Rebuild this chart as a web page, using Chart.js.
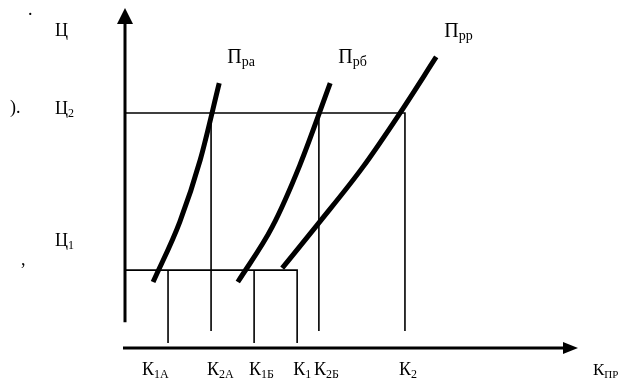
<!DOCTYPE html>
<html>
<head>
<meta charset="utf-8">
<script src="https://cdn.jsdelivr.net/npm/chart.js@4/dist/chart.umd.min.js"></script>
<style>
  html, body { margin: 0; padding: 0; background: #fff; }
  #wrap { position: relative; width: 629px; height: 381px; }
</style>
</head>
<body>
<div id="wrap"><canvas id="chart"></canvas></div>
<script>
// ── Data ─────────────────────────────────────────────────────────────────────

// quantities on the horizontal axis (К with subscript)
const qSubs   = ['1А', '2А', '1Б', '1', '2Б', '2'];
const qValues = [9.5, 19.0, 28.5, 38.0, 42.8, 61.8];

// price levels Ц1, Ц2
const priceSubs   = ['1', '2'];
const priceLevels = [22.9, 69.1];

// supply curves Пра, Прб, Прр
const curveSubs = ['ра', 'рб', 'рр'];
const supplyAx = [6.2, 12.1, 16.6, 20.8];
const supplyAy = [19.4, 37.1, 55.3, 77.9];
const supplyBx = [24.9, 32.5, 38.6, 45.3];
const supplyBy = [19.4, 35.6, 53.8, 77.9];
const supplyRx = [34.7, 42.8, 52.5, 60.7, 68.7];
const supplyRy = [23.5, 36.8, 53.2, 69.1, 85.6];

// where the drop lines stop above the quantity axis
const upperDropEnd = 5.0;
const lowerDropEnd = 1.5;

// ── Helpers ──────────────────────────────────────────────────────────────────

const SERIF = '"Liberation Serif", "DejaVu Serif", serif';

const zip = (xs, ys) => xs.map((x, i) => ({ x, y: ys[i] }));

function segment(points, width) {
    return {
        data: points,
        showLine: true,
        borderColor: '#000',
        borderWidth: width,
        pointRadius: 0,
        borderCapStyle: 'butt',
        tension: 0,
        clip: false,
    };
}

function curve(points) {
    return { ...segment(points, 5), cubicInterpolationMode: 'monotone' };
}

const [k1A, k2A, k1B, k1, k2B, k2] = qValues;
const [p1, p2] = priceLevels;
const GUIDE = 1.6;

const datasets = [
    // upper price level and its drop lines
    segment([{ x: 0, y: p2 }, { x: k2, y: p2 }, { x: k2, y: upperDropEnd }], GUIDE),
    segment([{ x: k2A, y: p2 }, { x: k2A, y: upperDropEnd }], GUIDE),
    segment([{ x: k2B, y: p2 }, { x: k2B, y: upperDropEnd }], GUIDE),
    // lower price level and its drop lines
    segment([{ x: 0, y: p1 }, { x: k1, y: p1 }, { x: k1, y: lowerDropEnd }], GUIDE),
    segment([{ x: k1A, y: p1 }, { x: k1A, y: lowerDropEnd }], GUIDE),
    segment([{ x: k1B, y: p1 }, { x: k1B, y: lowerDropEnd }], GUIDE),
    // supply curves
    curve(zip(supplyAx, supplyAy)),
    curve(zip(supplyBx, supplyBy)),
    curve(zip(supplyRx, supplyRy)),
];

function subText(ctx, main, sub, x, base, size, subSize) {
    ctx.font = `${size}px ${SERIF}`;
    ctx.fillText(main, x, base);
    const w = ctx.measureText(main).width;
    ctx.font = `${subSize}px ${SERIF}`;
    ctx.fillText(sub, x + w, base + 3);
}

function arrowHead(ctx, tipX, tipY, dir) {
    ctx.beginPath();
    if (dir === 'up') {
        ctx.moveTo(tipX, tipY);
        ctx.lineTo(tipX - 8, tipY + 16);
        ctx.lineTo(tipX + 8, tipY + 16);
    } else {
        ctx.moveTo(tipX, tipY);
        ctx.lineTo(tipX - 15, tipY - 6);
        ctx.lineTo(tipX - 15, tipY + 6);
    }
    ctx.closePath();
    ctx.fill();
}

// axes with arrows and all the text labels
const diagramPlugin = {
    id: 'diagram',
    afterDatasetsDraw(chart) {
        const { ctx, scales: { x, y } } = chart;
        const x0 = x.getPixelForValue(0);
        const y0 = y.getPixelForValue(0);
        ctx.save();
        ctx.strokeStyle = '#000';
        ctx.fillStyle = '#000';
        ctx.lineWidth = 3;

        // price axis
        const yTop = y.getPixelForValue(100);
        ctx.beginPath();
        ctx.moveTo(x0, y.getPixelForValue(7.6));
        ctx.lineTo(x0, yTop + 10);
        ctx.stroke();
        arrowHead(ctx, x0, yTop, 'up');

        // quantity axis
        const xEnd = x.getPixelForValue(100);
        ctx.beginPath();
        ctx.moveTo(x0 - 2, y0);
        ctx.lineTo(xEnd - 10, y0);
        ctx.stroke();
        arrowHead(ctx, xEnd, y0, 'right');

        ctx.textBaseline = 'alphabetic';
        ctx.textAlign = 'left';

        // quantity labels under the axis
        const shifts = [-26, -4, -5, -4, -5, -6];
        qValues.forEach((v, i) => {
            subText(ctx, 'К', qSubs[i], x.getPixelForValue(v) + shifts[i], 375, 18, 12);
        });
        subText(ctx, 'К', 'ПР', 593, 375, 17, 11);

        // price labels left of the axis
        ctx.font = `18px ${SERIF}`;
        ctx.fillText('Ц', 55, 36);
        subText(ctx, 'Ц', priceSubs[1], 55, y.getPixelForValue(p2) + 1, 18, 12);
        subText(ctx, 'Ц', priceSubs[0], 55, y.getPixelForValue(p1) - 24, 18, 12);

        // curve names above each curve's end
        [[supplyAx, supplyAy], [supplyBx, supplyBy], [supplyRx, supplyRy]].forEach(([xs, ys], i) => {
            const n = xs.length - 1;
            const px = x.getPixelForValue(xs[n]) + 8;
            const py = y.getPixelForValue(ys[n]) - 20;
            subText(ctx, 'П', curveSubs[i], px, py, 20, 14);
        });

        // stray punctuation in the left margin
        ctx.font = `18px ${SERIF}`;
        ctx.fillText('.', 28, 15);
        ctx.fillText(').', 10, 113);
        ctx.fillText(',', 21, 265);

        ctx.restore();
    },
};

new Chart(document.getElementById('chart'), {
    type: 'scatter',
    data: { datasets },
    options: {
        responsive: true,
        maintainAspectRatio: false,
        animation: false,
        layout: { padding: { left: 125, right: 51, top: 8, bottom: 33 } },
        plugins: { legend: { display: false }, tooltip: { enabled: false } },
        scales: {
            x: { type: 'linear', min: 0, max: 100, display: false },
            y: { type: 'linear', min: 0, max: 100, display: false },
        },
    },
    plugins: [diagramPlugin],
});
</script>
</body>
</html>
